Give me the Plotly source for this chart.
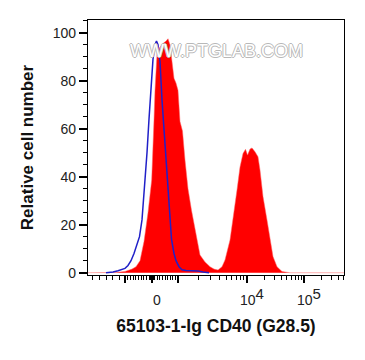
import math
import plotly.graph_objects as go

# Display channel (0..256) of a biexponential FL axis
red_x = [0, 12, 27, 37, 44, 48, 52, 56, 60, 63.7, 65, 66, 67, 68, 69, 72, 75, 78, 80, 82, 84, 86, 88, 90,
         92, 94.5, 97, 100, 103.5, 106, 109, 112, 117, 122, 126, 130, 134, 137, 142, 145, 149, 152, 155,
         157.5, 159.5, 162, 164, 167, 170, 172, 175, 179, 182, 185, 189, 194, 202, 256]
red_y = [0, 0, 0.1, 0.5, 1.5, 2.5, 5, 13, 25, 38.6, 50, 63.6, 76, 86, 91, 94, 95.5, 96.5, 97.5, 95, 88, 81, 79, 76,
         63, 59, 47, 35, 26, 20, 13.6, 7.4, 4.5, 2.5, 1.5, 1.1, 2.5, 5.3, 13.6, 22, 34.5, 44, 49.7,
         51.4, 49, 51.5, 52, 50.4, 48.3, 42.8, 31.7, 22, 13.6, 6.7, 2.5, 0.5, 0, 0]

blue_x = [18, 20, 25, 30, 34, 37, 40, 43, 46, 49, 51.5, 54, 57, 59, 61, 63, 65, 67, 68.5, 70, 72, 74, 75.5,
          77, 79, 81, 83.5, 86, 88, 91, 94, 98, 104, 110, 115, 119, 121]
blue_y = [0, 0, 0.3, 0.8, 1.2, 1.8, 3, 5, 8, 12, 15, 22, 38, 50, 64, 78, 89, 95, 96.5, 95, 88, 72, 63,
          52, 38, 26, 14, 8, 5, 2.5, 1.2, 0.9, 0.8, 0.7, 0.3, 0, 0]

labeled_ticks = [64, 159, 216]
labeled_text = ["0",
                "10<sup><span style='font-size:15px'>4</span></sup>",
                "10<sup><span style='font-size:15px'>5</span></sup>"]
unlabeled_major = [37, 90]
y_ticks = [0, 20, 40, 60, 80, 100]

minor = [4, 11, 18, 24, 31]
minor += [37 + 2.7 * k for k in range(1, 10)]
minor += [62, 63, 65, 66]
minor += [64 + 2.6 * k for k in range(1, 10)]
minor += [90 + 69 * math.log10(k) for k in range(2, 10)]
minor += [159 + 57 * math.log10(k) for k in range(2, 10)]
minor += [216 + 57 * math.log10(k) for k in range(2, 6)]

FONT = "Liberation Sans, Arial, sans-serif"

fig = go.Figure()
fig.add_trace(go.Scatter(x=red_x, y=red_y, mode="lines", fill="tozeroy",
                         fillcolor="#ff0000", line=dict(color="#ff6666", width=0.5),
                         hoverinfo="skip", showlegend=False))
fig.add_trace(go.Scatter(x=blue_x, y=blue_y, mode="lines",
                         line=dict(color="#2020c8", width=1.5),
                         hoverinfo="skip", showlegend=False))

fig.add_annotation(text="WWW.PTGLAB.COM", x=0.5, y=0.925, xref="paper", yref="paper",
                   showarrow=False,
                   font=dict(family=FONT, size=18, color="#ffffff",
                             shadow="-1px 0 #b8b8b8, 1px 0 #b8b8b8, 0 1px #b8b8b8, 0 -1px #b8b8b8"))

fig.update_layout(
    width=357, height=352,
    margin=dict(l=80, r=21, t=12, b=85),
    paper_bgcolor="white", plot_bgcolor="white",
    font=dict(family=FONT, size=14, color="#222"),
    xaxis=dict(range=[0, 256], showgrid=False, zeroline=False,
               showline=True, linecolor="black", linewidth=1.2, mirror=True,
               tickmode="array", tickvals=labeled_ticks, ticktext=labeled_text,
               ticks="outside", ticklen=7, tickwidth=2, tickcolor="black",
               ticklabelstandoff=5, ticklabelshift=5,
               tickfont=dict(size=14, color="#222"),
               minor=dict(tickmode="array", tickvals=minor, ticks="outside",
                          ticklen=4, tickwidth=1, tickcolor="black"),
               title=dict(text="65103-1-Ig CD40 (G28.5)", standoff=12,
                          font=dict(size=17.5, weight="bold", color="#111"))),
    xaxis2=dict(range=[0, 256], overlaying="x", side="bottom", anchor="y",
                showgrid=False, zeroline=False, showline=False,
                tickmode="array", tickvals=unlabeled_major, showticklabels=False,
                ticks="outside", ticklen=7, tickwidth=2, tickcolor="black"),
    yaxis=dict(range=[-0.96, 105.3], showgrid=False, zeroline=False,
               showline=True, linecolor="black", linewidth=1.2, mirror=True,
               tickmode="array", tickvals=y_ticks,
               ticks="outside", ticklen=8, tickwidth=1.5, tickcolor="black",
               tickfont=dict(size=14, color="#222"),
               minor=dict(dtick=5, tick0=0, ticks="outside", ticklen=4,
                          tickwidth=1, tickcolor="black"),
               title=dict(text="Relative cell number", standoff=14,
                          font=dict(size=17, weight="bold", color="#111"))),
)
# invisible trace to activate the overlay axis carrying unlabeled major ticks
fig.add_trace(go.Scatter(x=[None], y=[None], xaxis="x2", yaxis="y",
                         hoverinfo="skip", showlegend=False))

fig.write_html("out.html")
